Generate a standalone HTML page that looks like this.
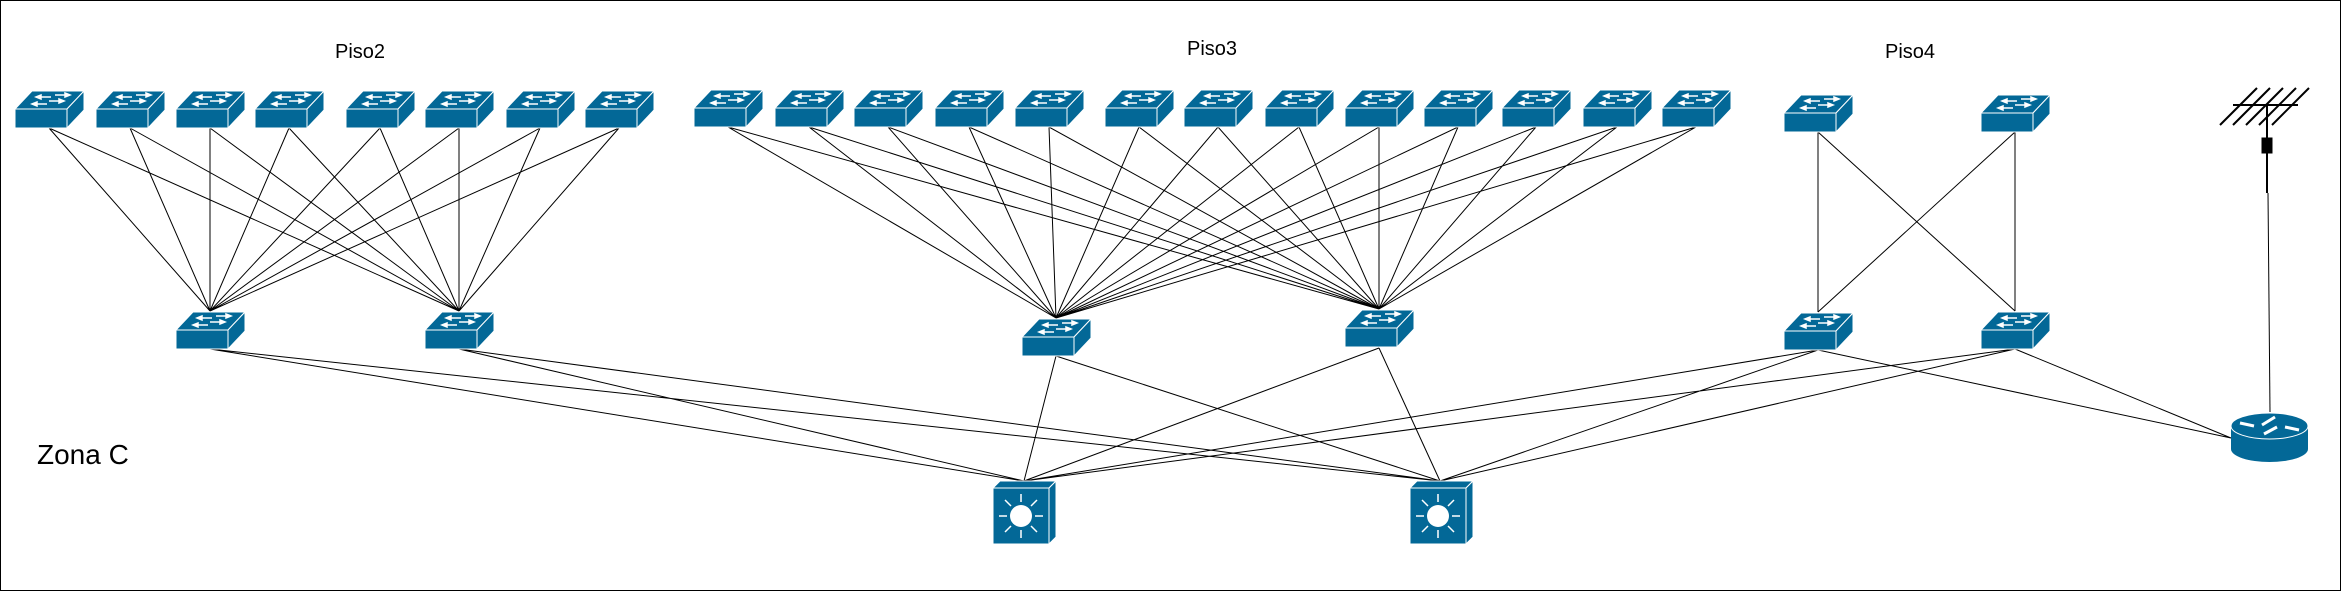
<!DOCTYPE html>
<html><head><meta charset="utf-8"><style>
html,body{margin:0;padding:0;background:#fff}
svg{display:block}
text{font-family:"Liberation Sans",sans-serif;fill:#000}
</style></head><body>
<svg width="2341" height="591" viewBox="0 0 2341 591" xmlns="http://www.w3.org/2000/svg">
<defs>
<g id="sw">
<polygon points="0,19 17,1 69,1 52,19" fill="#036897" stroke="#fff" stroke-width="1"/>
<rect x="0" y="19" width="52" height="19" fill="#036897" stroke="#fff" stroke-width="1"/>
<polygon points="52,19 69,1 69,20 52,38" fill="#036897" stroke="#fff" stroke-width="1"/>
<g stroke="#fff" stroke-width="1.5" fill="#fff">
<line x1="24" y1="7" x2="36" y2="7"/><polygon points="21,7 26,5 26,9"/>
<line x1="40" y1="5" x2="52" y2="5"/><polygon points="55,5 50,3 50,7"/>
<line x1="20" y1="14" x2="32" y2="14"/><polygon points="17,14 22,12 22,16"/>
<line x1="34" y1="11" x2="46" y2="11"/><polygon points="49,11 44,9 44,13"/>
</g>
</g>
<g id="core">
<polygon points="0,7 7,0 63,0 56,7" fill="#036897" stroke="#fff"/>
<rect x="0" y="7" width="56" height="56" fill="#036897" stroke="#fff"/>
<polygon points="56,7 63,0 63,56 56,63" fill="#036897" stroke="#fff"/>
<circle cx="28" cy="35" r="11" fill="#fff"/>
<g stroke="#fff" stroke-width="1.5">
<line x1="28" y1="21" x2="28" y2="13"/><line x1="28" y1="49" x2="28" y2="57"/>
<line x1="14" y1="35" x2="6" y2="35"/><line x1="42" y1="35" x2="50" y2="35"/>
<line x1="18" y1="25" x2="12" y2="19"/><line x1="38" y1="25" x2="44" y2="19"/>
<line x1="18" y1="45" x2="12" y2="51"/><line x1="38" y1="45" x2="44" y2="51"/>
</g>
</g>
</defs>
<rect x="0.5" y="0.5" width="2340" height="590" fill="#fff" stroke="#000"/>
<g stroke="#000" stroke-width="1">
<path d="M49,128L210,311M49,128L459,311M130,128L210,311M130,128L459,311M210,128L210,311M210,128L459,311M289,128L210,311M289,128L459,311M380,128L210,311M380,128L459,311M459,128L210,311M459,128L459,311M540,128L210,311M540,128L459,311M619,128L210,311M619,128L459,311"/>
<path d="M728,127L1056,318M728,127L1379,309M809,127L1056,318M809,127L1379,309M888,127L1056,318M888,127L1379,309M969,127L1056,318M969,127L1379,309M1049,127L1056,318M1049,127L1379,309M1139,127L1056,318M1139,127L1379,309M1218,127L1056,318M1218,127L1379,309M1299,127L1056,318M1299,127L1379,309M1379,127L1056,318M1379,127L1379,309M1458,127L1056,318M1458,127L1379,309M1536,127L1056,318M1536,127L1379,309M1617,127L1056,318M1617,127L1379,309M1696,127L1056,318M1696,127L1379,309"/>
<path d="M1818,132L1818,312M1818,132L2015,311M2015,132L1818,312M2015,132L2015,311"/>
<path d="M210,349L1024,481M210,349L1440,481M459,349L1024,481M459,349L1440,481M1056,356L1024,481M1056,356L1440,481M1379,348L1024,481M1379,348L1440,481M1818,350L1024,481M1818,350L1440,481M2015,349L1024,481M2015,349L1440,481M1818,350L2231,438M2015,349L2231,438"/>
<line x1="2268" y1="193" x2="2270" y2="412"/>
</g>
<g stroke="#000">
<line x1="2233" y1="105" x2="2298" y2="105" stroke-width="2"/>
<line x1="2220" y1="125" x2="2257" y2="88" stroke-width="2"/>
<line x1="2233" y1="125" x2="2270" y2="88" stroke-width="2"/>
<line x1="2246" y1="125" x2="2283" y2="88" stroke-width="2"/>
<line x1="2259" y1="125" x2="2296" y2="88" stroke-width="2"/>
<line x1="2272" y1="125" x2="2309" y2="88" stroke-width="2"/>
<line x1="2267" y1="105" x2="2267" y2="193" stroke-width="2"/>
<rect x="2262" y="138" width="10" height="15" fill="#000"/>
</g>
<g>
<path d="M2231,426 L2231,449 A38.5,13 0 0 0 2308,449 L2308,426 Z" fill="#036897"/>
<ellipse cx="2269.5" cy="426" rx="38.5" ry="13" fill="#036897" stroke="#fff" stroke-width="1"/>
<g stroke="#fff" stroke-width="3" fill="#fff">
<line x1="2240" y1="423" x2="2254" y2="426"/><line x1="2285" y1="427" x2="2299" y2="430"/>
<line x1="2262" y1="425" x2="2275" y2="417"/><line x1="2277" y1="427" x2="2264" y2="434"/>
</g>
</g>
<use href="#sw" x="15" y="90"/><use href="#sw" x="96" y="90"/><use href="#sw" x="176" y="90"/><use href="#sw" x="255" y="90"/>
<use href="#sw" x="346" y="90"/><use href="#sw" x="425" y="90"/><use href="#sw" x="506" y="90"/><use href="#sw" x="585" y="90"/>
<use href="#sw" x="176" y="311"/><use href="#sw" x="425" y="311"/>
<use href="#sw" x="694" y="89"/><use href="#sw" x="775" y="89"/><use href="#sw" x="854" y="89"/><use href="#sw" x="935" y="89"/>
<use href="#sw" x="1015" y="89"/><use href="#sw" x="1105" y="89"/><use href="#sw" x="1184" y="89"/><use href="#sw" x="1265" y="89"/>
<use href="#sw" x="1345" y="89"/><use href="#sw" x="1424" y="89"/><use href="#sw" x="1502" y="89"/><use href="#sw" x="1583" y="89"/><use href="#sw" x="1662" y="89"/>
<use href="#sw" x="1022" y="318"/><use href="#sw" x="1345" y="309"/>
<use href="#sw" x="1784" y="94"/><use href="#sw" x="1981" y="94"/>
<use href="#sw" x="1784" y="312"/><use href="#sw" x="1981" y="311"/>
<use href="#core" x="993" y="481"/><use href="#core" x="1410" y="481"/>
<text x="360" y="58" font-size="20" text-anchor="middle">Piso2</text>
<text x="1212" y="55" font-size="20" text-anchor="middle">Piso3</text>
<text x="1910" y="58" font-size="20" text-anchor="middle">Piso4</text>
<text x="37" y="464" font-size="28">Zona C</text>
</svg>
</body></html>
